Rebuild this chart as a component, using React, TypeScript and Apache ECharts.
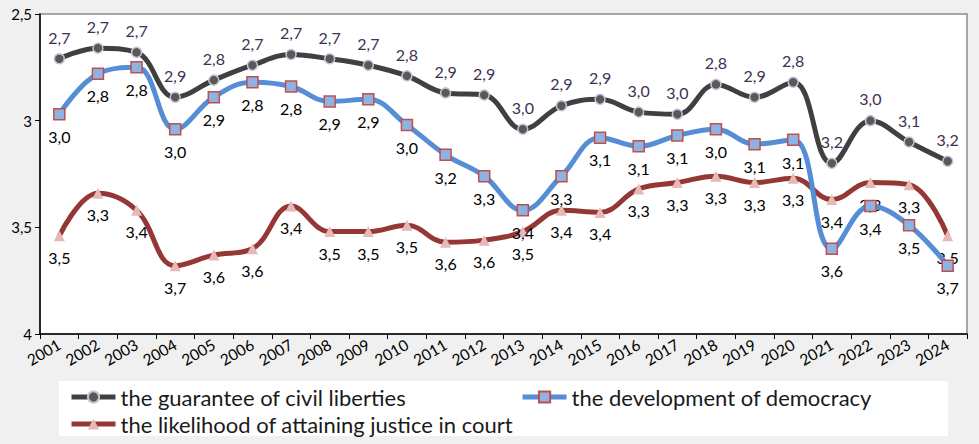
import React, { useEffect, useRef } from "react";
import * as echarts from "echarts";

const years = ["2001","2002","2003","2004","2005","2006","2007","2008","2009","2010","2011","2012","2013","2014","2015","2016","2017","2018","2019","2020","2021","2022","2023","2024"];
const civilLiberties = [2.71,2.66,2.68,2.89,2.81,2.74,2.69,2.71,2.74,2.79,2.87,2.88,3.04,2.93,2.90,2.96,2.97,2.83,2.89,2.82,3.20,3.00,3.10,3.19];
const democracy = [2.97,2.78,2.75,3.04,2.89,2.82,2.84,2.91,2.90,3.02,3.16,3.26,3.42,3.26,3.08,3.12,3.07,3.04,3.11,3.09,3.60,3.40,3.49,3.68];
const justice = [3.54,3.34,3.42,3.68,3.63,3.60,3.40,3.52,3.52,3.49,3.57,3.56,3.52,3.42,3.43,3.32,3.29,3.26,3.29,3.27,3.37,3.29,3.30,3.54];
const seriesNames = ["the guarantee of civil liberties", "the development of democracy", "the likelihood of attaining justice in court"];

const FONT = "Lato, 'Open Sans', sans-serif";
const fmt = (v: number) => v.toFixed(1).replace(".", ",");

export default function App() {
  const ref = useRef<HTMLDivElement>(null);
  useEffect(() => {
    document.body.style.margin = "0";
    const chart = echarts.init(ref.current!, undefined, { renderer: "svg" });
    const labelBase = { show: true, fontFamily: FONT, fontSize: 16, distance: 8, formatter: (p: any) => fmt(p.value) };
    const legendText = { fontFamily: FONT, fontSize: 22, color: "#1a1a1a" };
    chart.setOption({
      animation: false,
      backgroundColor: "#f0f0f0",
      textStyle: { fontFamily: FONT },
      grid: { left: 40, right: 12, top: 14, bottom: 110, show: true, backgroundColor: "#ffffff", borderColor: "#8c8c8c", borderWidth: 1.5 },
      graphic: [
        { type: "rect", left: 59, top: 381, shape: { width: 889, height: 55 }, style: { fill: "#ffffff" }, z: -1 },
      ],
      legend: [
        {
          data: [seriesNames[0], seriesNames[1]], left: 64, top: 381, itemWidth: 44, itemHeight: 14, itemGap: 114,
          lineStyle: { width: 5 }, textStyle: legendText,
        },
        {
          data: [seriesNames[2]], left: 64, top: 408, itemWidth: 44, itemHeight: 14,
          lineStyle: { width: 5 }, textStyle: legendText,
        },
      ],
      xAxis: {
        type: "category",
        data: years,
        boundaryGap: true,
        axisLine: { lineStyle: { color: "#000", width: 1.5 } },
        axisTick: { show: true, length: 5, lineStyle: { color: "#000" } },
        axisLabel: { rotate: 30, fontFamily: FONT, fontSize: 15.5, color: "#000", margin: 9, interval: 0 },
      },
      yAxis: {
        type: "value",
        inverse: true,
        min: 2.5,
        max: 4,
        interval: 0.5,
        splitLine: { show: false },
        axisLine: { show: true, lineStyle: { color: "#000", width: 1.5 } },
        axisTick: { show: true, length: 5, lineStyle: { color: "#000" } },
        axisLabel: { fontFamily: FONT, fontSize: 15, color: "#000", margin: 8, formatter: (v: number) => String(v).replace(".", ",") },
      },
      series: [
        {
          name: seriesNames[0], type: "line", data: civilLiberties, smooth: 0.4,
          symbol: "circle", symbolSize: 10,
          lineStyle: { color: "#404040", width: 5 },
          itemStyle: { color: "#595959", borderColor: "#ccc1da", borderWidth: 1.5 },
          label: { ...labelBase, position: "top", color: "#403152" },
          z: 3,
        },
        {
          name: seriesNames[1], type: "line", data: democracy, smooth: 0.4,
          symbol: "rect", symbolSize: 11,
          lineStyle: { color: "#558ed5", width: 5 },
          itemStyle: { color: "#8db3e2", borderColor: "#c0504d", borderWidth: 1.5 },
          label: { ...labelBase, position: "bottom", color: "#000" },
          z: 4,
        },
        {
          name: seriesNames[2], type: "line", data: justice, smooth: 0.4,
          symbol: "triangle", symbolSize: 11,
          lineStyle: { color: "#953735", width: 5 },
          itemStyle: { color: "#e6b9b8", borderWidth: 0 },
          label: { ...labelBase, position: "bottom", color: "#000" },
          z: 2,
        },
      ],
    });
    return () => chart.dispose();
  }, []);
  return <div ref={ref} style={{ position: "absolute", left: 0, top: 0, width: 979, height: 444 }} />;
}
